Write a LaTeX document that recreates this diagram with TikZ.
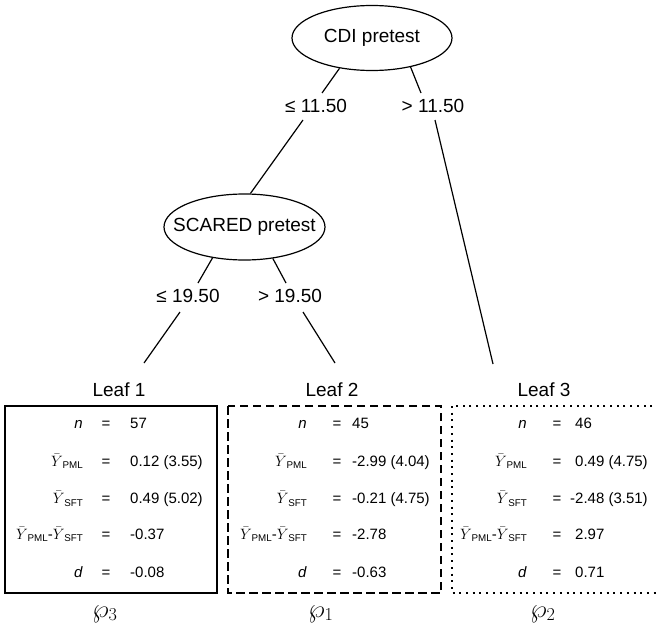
\documentclass[tikz,border=0pt]{standalone}
\usepackage{fix-cm}
\usepackage{fontspec}
\setmainfont{Liberation Sans}
\usetikzlibrary{shapes.geometric}
\newcommand{\yb}[1]{{\fontsize{15}{16}\selectfont$\bar{Y}$}\kern-0.3pt\raisebox{-2.5pt}{\fontsize{9.8}{10}\selectfont #1}}
\newcommand{\leafrow}[7]{%
  \node[cell, anchor=base east] (#1l) at (#2,#5) {#6};
  \node[cell, anchor=base] (#1e) at (#3,#5) {=};
  \node[cell, anchor=base west] (#1v) at (#4,#5) {#7};}
\begin{document}
\begin{tikzpicture}[x=1pt,y=-1pt,
  split/.style={draw, ellipse, line width=1.2pt, inner sep=0pt,
    font=\fontsize{19}{20}\selectfont},
  big/.style={inner sep=0pt, font=\fontsize{19}{20}\selectfont},
  cell/.style={inner sep=0pt, font=\fontsize{15}{16}\selectfont},
  pl/.style={inner sep=0pt, font=\fontsize{26}{27}\selectfont},
  edge/.style={line width=1.2pt},
  boxline/.style={line width=2pt}]
\useasboundingbox (0,0) rectangle (656,626);

% split nodes
\node[split, minimum width=160pt, minimum height=65pt] (cdi) at (372,38) {\makebox[0pt]{CDI pretest}};
\node[split, minimum width=161pt, minimum height=66pt] (scared) at (244.5,227) {\makebox[0pt]{SCARED pretest}};

% edge labels
\node[big, anchor=base] (l1) at (316,112.5) {≤ 11.50};
\node[big, anchor=base] (r1) at (433,112.5) {> 11.50};
\node[big, anchor=base] (l2) at (188,302.5) {≤ 19.50};
\node[big, anchor=base] (r2) at (290,302.5) {> 19.50};

% leaf labels
\node[big, anchor=base] (leaf1) at (119,396) {Leaf 1};
\node[big, anchor=base] (leaf2) at (332,396) {Leaf 2};
\node[big, anchor=base] (leaf3) at (544,396) {Leaf 3};

% connector end points
\coordinate (a1) at (322,93);  \coordinate (a2) at (303,120);
\coordinate (b1) at (421,93);  \coordinate (b2) at (435,120); \coordinate (b3) at (493,364);
\coordinate (c1) at (198,283); \coordinate (c2) at (180,312); \coordinate (c3) at (144,363);
\coordinate (d1) at (286,283); \coordinate (d2) at (303,312); \coordinate (d3) at (335,363);

\draw[edge] (cdi.-137) -- (a1);
\draw[edge] (a2) -- (scared.80);
\draw[edge] (cdi.-37) -- (b1);
\draw[edge] (b2) -- (b3);
\draw[edge] (scared.-136) -- (c1);
\draw[edge] (c2) -- (c3);
\draw[edge] (scared.-48) -- (d1);
\draw[edge] (d2) -- (d3);

% boxes
\draw[boxline] (5,406) rectangle (217,593);
\draw[boxline, dash pattern=on 8.5pt off 4.5pt] (228,406) rectangle (441,593);
\draw[boxline, dash pattern=on 2pt off 4.7pt] (452,406) rectangle (680,593);

% box 1
\leafrow{p1}{83}{106}{130}{428.5}{\textit{n}}{57}
\leafrow{q1}{83}{106}{130}{466}{\yb{PML}}{0.12 (3.55)}
\leafrow{s1}{83}{106}{130}{503.5}{\yb{SFT}}{0.49 (5.02)}
\leafrow{t1}{83}{106}{130}{539}{\yb{PML}-\yb{SFT}}{-0.37}
\leafrow{u1}{83}{106}{130}{577}{\textit{d}}{-0.08}
% box 2
\leafrow{p2}{307}{337}{352}{428.5}{\textit{n}}{45}
\leafrow{q2}{307}{337}{352}{466}{\yb{PML}}{-2.99 (4.04)}
\leafrow{s2}{307}{337}{352}{503.5}{\yb{SFT}}{-0.21 (4.75)}
\leafrow{t2}{307}{337}{352}{539}{\yb{PML}-\yb{SFT}}{-2.78}
\leafrow{u2}{307}{337}{352}{577}{\textit{d}}{-0.63}
% box 3
\leafrow{p3}{527}{557}{575}{428.5}{\textit{n}}{46}
\leafrow{q3}{527}{557}{575}{466}{\yb{PML}}{0.49 (4.75)}
\leafrow{s3}{527}{557}{575}{503.5}{\yb{SFT}}{\llap{-}2.48 (3.51)}
\leafrow{t3}{527}{557}{575}{539}{\yb{PML}-\yb{SFT}}{2.97}
\leafrow{u3}{527}{557}{575}{577}{\textit{d}}{0.71}

% partition labels
\node[pl, anchor=base] (w3) at (105,617) {$\wp_3$};
\node[pl, anchor=base] (w1) at (321,617) {$\wp_1$};
\node[pl, anchor=base] (w2) at (543,617) {$\wp_2$};
\end{tikzpicture}
\end{document}
